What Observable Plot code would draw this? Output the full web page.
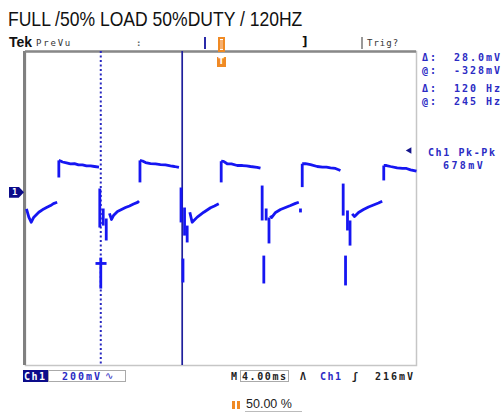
<!DOCTYPE html>
<html><head><meta charset="utf-8">
<script src="https://cdn.jsdelivr.net/npm/d3@7"></script>
<script src="https://cdn.jsdelivr.net/npm/@observablehq/plot@0.6"></script>
<style>
body{margin:0;background:#fff;}
#wrap{position:relative;width:501px;height:414px;overflow:hidden;background:#fff;}
#wrap svg{position:absolute;left:0;top:0;}
.t{position:absolute;white-space:nowrap;line-height:1;}
.px{font-family:"DejaVu Sans Mono",monospace;font-weight:bold;font-size:10px;letter-spacing:2px;}
.blue{color:#2b2bc4;}
.dark{color:#222;}
.box{position:absolute;box-sizing:border-box;}
</style></head><body><div id="wrap"></div>
<script>
// ---- scope settings (200 mV/div, 4 ms/div, ground = 0 mV) ----
const timeDomain = [0, 40];        // ms
const voltDomain = [-880, 720];    // mV
const cursorTimes = [7.70, 16.03]; // dotted, solid
const triggerLevel = 216;          // mV
const groundLevel = 0;             // mV

// ---- Ch1 trace: [t ms, mV] ----
const startCurve = [[0.10,-82],[0.34,-124],[0.58,-150],[0.85,-124],[1.36,-99],[1.87,-82],[2.15,-75],[2.56,-65],[2.86,-55],[3.24,-48]];
const rises = [[3.41,78,165],[11.71,53,165],[20.02,53,161],[28.31,29,148],[36.65,63,139]];
const tops = [
  [[3.41,165],[3.58,162],[3.79,157],[4.19,152],[4.60,147],[5.01,149],[5.42,142],[5.83,142],[6.24,137],[6.65,137],[7.06,134],[7.52,131]],
  [[11.71,165],[11.97,162],[12.28,154],[12.79,149],[13.30,147],[13.81,144],[14.32,142],[14.83,137],[15.24,134],[15.70,129]],
  [[20.02,161],[20.26,160],[20.63,148],[21.07,147],[21.66,139],[22.20,139],[22.61,137],[23.02,134],[23.70,130],[24.04,126]],
  [[28.31,148],[28.64,149],[29.16,144],[29.84,134],[30.38,131],[30.79,131],[31.20,127],[31.71,124],[32.22,114]],
  [[36.65,139],[36.93,139],[37.34,134],[38.02,127],[38.57,124],[38.98,124],[39.39,117],[40.00,110]]
];
const falls = [[7.60,22,-177],[15.91,27,-151],[24.21,37,-141],[32.50,47,-116]];
const spikes = [[7.95,-80,-167],[8.26,-131,-243],[16.27,-75,-218],[16.54,-167,-253],[24.62,-80,-141],[24.91,-126,-258],[32.94,-90,-192],[33.20,-141,-269],[28.13,-80,-100]];
const curves = [
  [[8.59,-105],[8.80,-136],[9.00,-116],[9.41,-95],[9.82,-85],[10.23,-75],[10.64,-67],[11.05,-57],[11.46,-49],[11.61,-42]],
  [[16.81,-99],[17.05,-150],[17.57,-124],[18.24,-99],[18.93,-76],[19.33,-67],[19.77,-56]],
  [[25.06,-116],[25.17,-126],[25.58,-100],[26.09,-85],[26.60,-75],[27.11,-65],[27.62,-54],[27.96,-48]],
  [[33.42,-107],[33.66,-121],[34.07,-100],[34.58,-85],[35.09,-72],[35.60,-62],[36.11,-52],[36.49,-43]]
];
const lowerSpikes = [[7.70,-330,-488],[16.11,-335,-457],[24.38,-320,-462],[32.74,-320,-472]];
const crossMark = [[7.16,-360],[8.29,-360]];

// ---- texts ----
const title = "FULL /50% LOAD 50%DUTY / 120HZ";
const readouts = [["Δ:","28.0mV"],["@:","-328mV"],["Δ:","120 Hz"],["@:","245 Hz"]];
const measName = "Ch1 Pk-Pk", measValue = "678mV";

// build segment rows
const rows = [];
let segId = 0;
function addPoly(pts){ segId++; for (const [t,v] of pts) rows.push({seg:segId,t,v}); }
function addVert([t,a,b]){ addPoly([[t,a],[t,b]]); }
addPoly(startCurve);
rises.forEach(addVert); tops.forEach(addPoly); falls.forEach(addVert);
spikes.forEach(addVert); curves.forEach(addPoly); lowerSpikes.forEach(addVert);
addPoly(crossMark);

const plot = Plot.plot({
  width: 501, height: 414,
  marginTop: 51, marginRight: 85, marginBottom: 49, marginLeft: 25,
  style: {background: "transparent", overflow: "visible"},
  x: {domain: timeDomain, axis: null},
  y: {domain: voltDomain, axis: null},
  marks: [
    Plot.frame({stroke: "#c6c6c6", strokeWidth: 1.5}),
    Plot.ruleX([timeDomain[0]], {stroke: "#808080", strokeWidth: 3, dx: -1}),
    Plot.ruleY([voltDomain[1]], {stroke: "#888888", strokeWidth: 2.5}),
    Plot.ruleX([cursorTimes[0]], {stroke: "#2828c0", strokeWidth: 2, strokeDasharray: "2,2.5"}),
    Plot.ruleX([cursorTimes[1]], {stroke: "#1f1f9c", strokeWidth: 1.7}),
    Plot.line(rows, {x: "t", y: "v", z: "seg", stroke: "#1616f2", strokeWidth: 2.8, curve: "linear", strokeLinecap: "butt"}),
    Plot.dot([triggerLevel], {y: d => d, frameAnchor: "right", dx: -7, symbol: "triangle", rotate: -90, r: 2.4, fill: "#14148c", stroke: null})
  ]
});
const wrap = document.getElementById("wrap");
wrap.appendChild(plot);
const ys = plot.scale("y");
const gy = ys.apply(groundLevel);

function txt(s, cls, css){ const d=document.createElement("div"); d.className="t "+cls; d.textContent=s; Object.assign(d.style, css); wrap.appendChild(d); return d; }
function box(css){ const d=document.createElement("div"); d.className="box"; Object.assign(d.style, css); wrap.appendChild(d); return d; }

// title
txt(title, "", {left:"8px", top:"8.2px", fontFamily:"'Liberation Sans',Arial,sans-serif", fontSize:"21px", color:"#111", transform:"scaleX(0.835)", transformOrigin:"0 0"});
// header row
txt("Tek", "", {left:"9px", top:"35.2px", fontFamily:"'Liberation Sans',Arial,sans-serif", fontWeight:"bold", fontSize:"14px", color:"#111"});
txt("PreVu", "px", {left:"36px", top:"39.4px", fontSize:"9px", fontWeight:"normal", letterSpacing:"1.8px", color:"#333"});
txt(":", "px", {left:"136px", top:"39px", fontSize:"9px", color:"#666"});
box({left:"204px", top:"37px", width:"2px", height:"12px", background:"#2a2aa8"});
box({left:"218px", top:"37px", width:"7px", height:"15px", border:"2px solid #f08a24", background:"#fff"});
box({left:"220px", top:"40px", width:"3px", height:"9px", background:"#f6b070"});
box({left:"217px", top:"57px", width:"9px", height:"10px", background:"#f08a24"});
txt("T", "", {left:"218.5px", top:"57.5px", fontFamily:"'DejaVu Sans',sans-serif", fontWeight:"bold", fontSize:"8px", color:"#fff"});
txt("]", "", {left:"302px", top:"36px", fontFamily:"'DejaVu Sans',sans-serif", fontWeight:"bold", fontSize:"12px", color:"#111"});
box({left:"361px", top:"37px", width:"1.5px", height:"12px", background:"#999"});
txt("Trig?", "px", {left:"367px", top:"39.4px", fontSize:"9px", fontWeight:"normal", letterSpacing:"1px", color:"#333"});

// right readouts
const rb = [61, 74, 92, 105];
readouts.forEach(([a,b],i)=>{
  txt(a, "px blue", {left:"422px", top:(rb[i]-8.5)+"px"});
  txt(b, "px blue", {right:"-1px", top:(rb[i]-8.5)+"px"});
});
txt(measName, "px blue", {left:"428px", top:(156-8.5)+"px", letterSpacing:"1.6px"});
txt(measValue, "px blue", {left:"443px", top:(169-8.5)+"px", letterSpacing:"2.4px"});

// ground marker
box({left:"9px", top:(gy-5.5)+"px", width:"15px", height:"11px", background:"#0c0c8a", clipPath:"polygon(0 0,65% 0,100% 50%,65% 100%,0 100%)"});
txt("1", "px", {left:"12px", top:(gy-4.5)+"px", fontSize:"9px", color:"#fff", letterSpacing:"0"});

// bottom row
box({left:"23px", top:"370px", width:"25px", height:"12px", background:"#0c0c8a"});
txt("Ch1", "px", {left:"24px", top:"372px", color:"#fff", letterSpacing:"1.5px"});
box({left:"48px", top:"370px", width:"78px", height:"12px", border:"1px solid #aaa"});
txt("200mV", "px blue", {left:"62px", top:"372px"});
txt("∿", "", {left:"105px", top:"371px", fontFamily:"'DejaVu Sans',sans-serif", fontSize:"10px", color:"#2b2bc4"});
txt("M", "px dark", {left:"231px", top:"372px"});
box({left:"240px", top:"370px", width:"49px", height:"12px", border:"1px solid #aaa"});
txt("4.00ms", "px dark", {left:"242px", top:"372px", letterSpacing:"1.6px"});
txt("Λ", "px dark", {left:"300px", top:"372px"});
txt("Ch1", "px blue", {left:"320px", top:"372px", letterSpacing:"1.5px"});
txt("ʃ", "px dark", {left:"352px", top:"372px"});
txt("216mV", "px dark", {left:"375px", top:"372px"});

// bottom trigger position readout
box({left:"232px", top:"401px", width:"3px", height:"8px", background:"#f08a24"});
box({left:"236.5px", top:"401px", width:"3px", height:"8px", background:"#f08a24"});
txt("50.00 %", "", {left:"246px", top:"398.4px", fontFamily:"'Liberation Sans',Arial,sans-serif", fontSize:"12.5px", color:"#222"});
box({left:"245px", top:"411px", width:"57px", height:"1px", background:"#bbb"});
</script></body></html>
